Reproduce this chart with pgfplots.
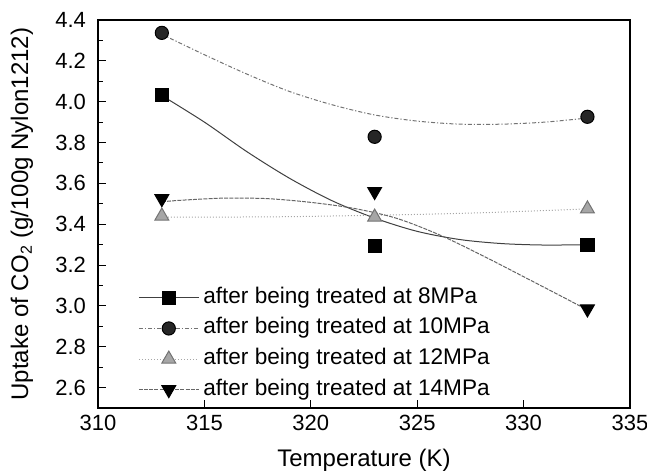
\documentclass[border=0pt]{standalone}
\usepackage{fontspec}
\setmainfont{Liberation Sans}
\usepackage{pgfplots}
\pgfplotsset{compat=1.18}
\pgfplotsset{
  sEight/.style={draw=black!75, solid, line width=0.5pt, mark=square*, mark size=3.3pt, mark options={solid, fill=black, draw=black}},
  sTen/.style={draw=black!55, line width=0.5pt, dash pattern=on 2pt off 1pt on 0.6pt off 1pt, mark=*, mark size=3.3pt, mark options={solid, fill=black!85, draw=black}},
  sTwelve/.style={draw=black!35, line width=0.5pt, densely dotted, mark=triangle*, mark size=4pt, mark options={solid, fill=black!35, draw=black!55}},
  sFourteen/.style={draw=black!60, line width=0.5pt, dash pattern=on 2pt off 0.6pt, mark=triangle*, mark size=4pt, mark options={solid, rotate=180, fill=black, draw=black}},
}
\begin{document}
\begin{tikzpicture}
\begin{axis}[
  scale only axis, width=266pt, height=194pt,
  xmin=310, xmax=335, ymin=2.5, ymax=4.4,
  xtick={310,315,320,325,330,335},
  ytick={2.6,2.8,3.0,3.2,3.4,3.6,3.8,4.0,4.2,4.4},
  minor y tick num=1,
  tick align=inside, tick pos=left,
  major tick length=4pt, minor tick length=2.5pt,
  axis line style={line width=0.6pt},
  tick style={black, line width=0.5pt},
  /pgf/number format/assume math mode=true,
  yticklabel style={xshift=-2.5pt, /pgf/number format/fixed, /pgf/number format/fixed zerofill, /pgf/number format/precision=1},
  xticklabel style={/pgf/number format/fixed, /pgf/number format/precision=0},
  tick label style={font=\fontsize{11}{12}\selectfont},
  label style={font=\fontsize{12}{14}\selectfont},
  xlabel={Temperature (K)},
  ylabel={Uptake of CO\textsubscript{2} (g/100g Nylon1212)},
  xlabel style={at={(axis description cs:0.5,0)}, anchor=center, yshift=-26pt},
  ylabel style={at={(axis description cs:0,0.5)}, anchor=center, yshift=38pt},
  legend cell align=left,
  legend image code/.code={\draw[mark repeat=2, mark phase=2] plot coordinates {(0pt,0pt) (15pt,0pt) (30pt,0pt)};},
  legend style={at={(0.075,0.312)}, anchor=north west, draw=none, fill=none, inner sep=0pt,
    font=\fontsize{11.3}{13}\selectfont, row sep=4.8pt,
    nodes={inner xsep=2pt, inner ysep=0pt, text height=8pt, text depth=2.5pt}},
]
\addlegendimage{sEight}
\addlegendentry{after being treated at 8MPa}
\addlegendimage{sTen}
\addlegendentry{after being treated at 10MPa}
\addlegendimage{sTwelve}
\addlegendentry{after being treated at 12MPa}
\addlegendimage{sFourteen}
\addlegendentry{after being treated at 14MPa}

% fitted curves
\addplot[sEight, mark=none, smooth, forget plot] coordinates {
(313,4.03) (315,3.90) (317,3.755) (319,3.625) (321,3.515) (323,3.43) (325,3.365) (327,3.325) (329,3.305) (331,3.298) (333,3.30)};
\addplot[sTen, mark=none, smooth, forget plot] coordinates {
(313,4.33) (315,4.23) (317,4.135) (319,4.05) (321,3.985) (323,3.935) (325,3.905) (327,3.89) (329,3.89) (331,3.90) (333,3.92)};
\addplot[sTwelve, mark=none, smooth, forget plot] coordinates {
(313,3.435) (316,3.435) (319,3.437) (322,3.442) (325,3.448) (328,3.456) (331,3.467) (333,3.475)};
\addplot[sFourteen, mark=none, smooth, forget plot] coordinates {
(313,3.51) (314,3.518) (316,3.528) (318,3.525) (320,3.507) (322,3.478) (324,3.43) (326,3.35) (328,3.25) (330,3.143) (332,3.035) (333,2.98)};

% measured points
\addplot[sEight, only marks, forget plot] coordinates {(313,4.033) (323,3.294) (333,3.299)};
\addplot[sTen, only marks, forget plot] coordinates {(313,4.337) (323,3.828) (333,3.926)};
\addplot[sTwelve, only marks, forget plot] coordinates {(313,3.44) (323,3.435) (333,3.475)};
\addplot[sFourteen, only marks, forget plot] coordinates {(313,3.525) (323,3.56) (333,2.985)};
\end{axis}
\pgfresetboundingbox
\path[use as bounding box] ([xshift=-49pt, yshift=-32pt]current axis.south west) rectangle ([xshift=8.5pt, yshift=10pt]current axis.north east);
\end{tikzpicture}
\end{document}
